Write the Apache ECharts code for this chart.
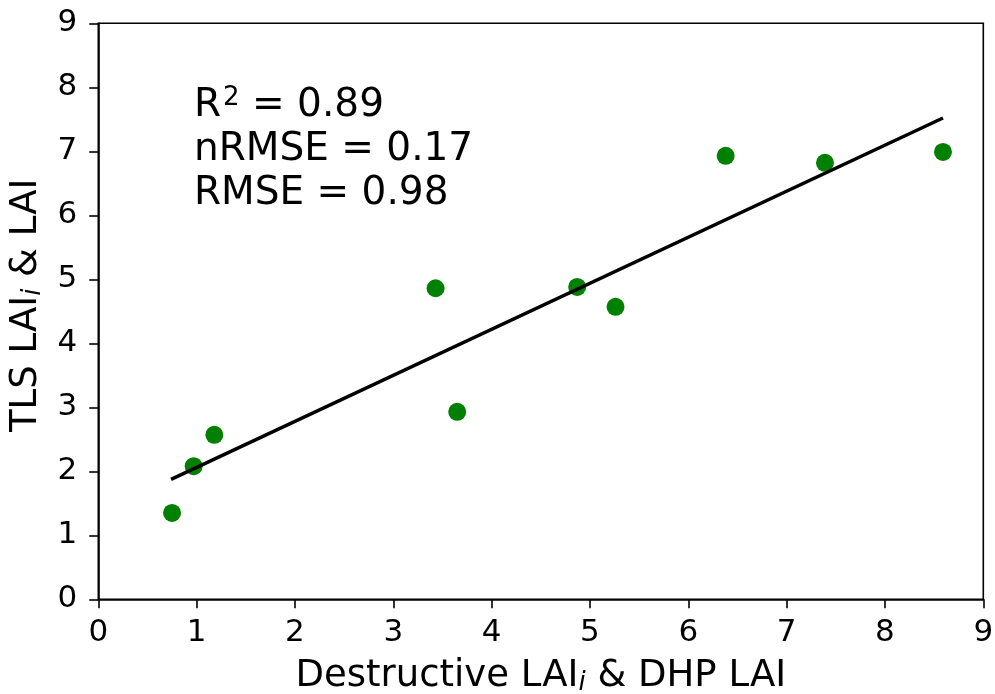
<!DOCTYPE html>
<html>
<head>
<meta charset="utf-8">
<script src="https://cdn.jsdelivr.net/npm/echarts@6/dist/echarts.min.js"></script>
<style>html,body{margin:0;padding:0;background:#fff;}#c{width:995px;height:694px;}</style>
</head>
<body>
<div id="c"></div>
<script>
// Data
const destructiveLAI = [0.75, 0.97, 1.18, 3.43, 3.65, 4.87, 5.26, 6.38, 7.39, 8.59];
const tlsLAI        = [1.35, 2.08, 2.57, 4.86, 2.93, 4.88, 4.57, 6.93, 6.82, 6.99];
const fitX = [0.74, 8.59];
const fitY = [1.875, 7.52];
const statsLines = ["R", "2", " = 0.89", "nRMSE = 0.17", "RMSE = 0.98"];
const xTicks = [0,1,2,3,4,5,6,7,8,9];
const yTicks = [0,1,2,3,4,5,6,7,8,9];

const FONT = "DejaVu Sans";
const chart = echarts.init(document.getElementById('c'), null, {renderer: 'canvas'});

const axisCommon = {
  interval: 1,
  axisLine: {show: true, onZero: false, lineStyle: {color: '#000', width: 1.6}},
  axisTick: {show: true, inside: false, length: 9, lineStyle: {color: '#000', width: 1.6}},
  splitLine: {show: false},
};

chart.setOption({
  animation: false,
  backgroundColor: '#fff',
  grid: {left: 98.3, right: 11.7, top: 23.3, bottom: 94.7, containLabel: false, outerBoundsMode: 'none',
         show: true, borderColor: '#000', borderWidth: 1.6, backgroundColor: 'transparent'},
  xAxis: Object.assign({}, axisCommon, {
    type: 'value',
    min: xTicks[0], max: xTicks[xTicks.length-1],
    axisLabel: {margin: 18, fontFamily: FONT, fontSize: 31, color: '#000'},
    name: '{a|Destructive LAI}{i|i}{a| & DHP LAI}',
    nameLocation: 'middle', nameGap: 57,
    nameTextStyle: {
      rich: {
        a: {fontFamily: FONT, fontSize: 37, color: '#000'},
        i: {fontFamily: FONT, fontSize: 26, fontStyle: 'italic', color: '#000', padding: [14, 0, 0, 0]}
      }
    }
  }),
  yAxis: Object.assign({}, axisCommon, {
    type: 'value',
    min: yTicks[0], max: yTicks[yTicks.length-1],
    axisLabel: {margin: 21, fontFamily: FONT, fontSize: 31, color: '#000'},
    name: '{a|TLS LAI}{i|i}{a| & LAI}',
    nameLocation: 'middle', nameGap: 47, nameRotate: 90,
    nameTextStyle: {
      padding: [0, 0, 0, 12],
      rich: {
        a: {fontFamily: FONT, fontSize: 37, color: '#000'},
        i: {fontFamily: FONT, fontSize: 26, fontStyle: 'italic', color: '#000', padding: [14, 0, 0, 0]}
      }
    }
  }),
  series: [
    {
      type: 'line',
      data: fitX.map((x, i) => [x, fitY[i]]),
      showSymbol: false,
      symbol: 'none',
      lineStyle: {color: '#000', width: 3.5},
      z: 3
    },
    {
      type: 'scatter',
      data: destructiveLAI.map((x, i) => [x, tlsLAI[i]]),
      symbol: 'circle',
      symbolSize: 18,
      itemStyle: {color: '#008000', opacity: 1},
      z: 2
    }
  ],
  graphic: [
    {
      type: 'text',
      left: 194, top: 85,
      style: {
        text: '{a|' + statsLines[0] + '}{s|' + statsLines[1] + '}{a|' + statsLines[2] + '}\n{a|' + statsLines[3] + '}\n{a|' + statsLines[4] + '}',
        rich: {
          a: {fontFamily: FONT, fontSize: 39, lineHeight: 44, fill: '#000', color: '#000'},
          s: {fontFamily: FONT, fontSize: 26, lineHeight: 44, fill: '#000', color: '#000', padding: [0, 0, 16, 2]}
        }
      }
    }
  ]
});
</script>
</body>
</html>
